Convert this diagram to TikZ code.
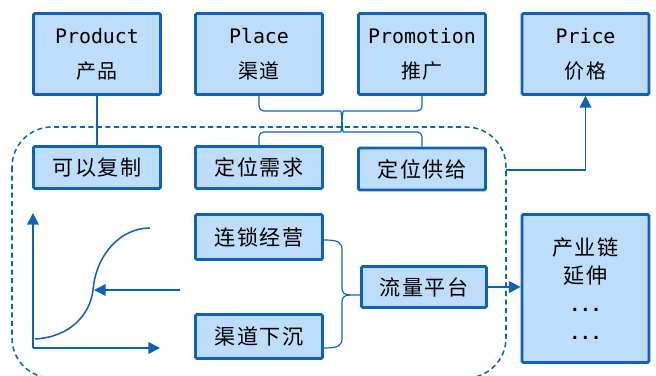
\documentclass[tikz,border=0pt]{standalone}
\usepackage{fontspec}
\setmainfont{DejaVu Sans Mono}
\newfontfamily\cjk[LetterSpace=8]{Noto Sans CJK SC}
\usetikzlibrary{arrows.meta}
\definecolor{BoxClr}{RGB}{189,221,250}
\definecolor{LineClr}{RGB}{14,98,181}

\tikzset{
  mixbox/.style={draw=LineClr,fill=BoxClr,line width=2.4pt,rounded corners=1.2pt,
    minimum width=3.81cm,minimum height=2.43cm,align=center,
    font=\fontsize{17}{30}\selectfont},
  cnbox/.style={draw=LineClr,fill=BoxClr,line width=2.4pt,rounded corners=1.2pt,
    minimum width=3.81cm,minimum height=1.26cm,align=center,
    font=\cjk\fontsize{18}{24}\selectfont},
  link/.style={draw=LineClr,line width=1pt},
  axis/.style={draw=LineClr,line width=1.3pt},
  tri/.style={-{Triangle[length=10pt,width=10pt]}}
}

\begin{document}
\begin{tikzpicture}[x=0.03cm,y=-0.03cm]
\useasboundingbox (0,0) rectangle (656,376);

% the four P
\node[mixbox] (prod)  at (97,54)    {Product\\{\cjk 产品}};
\node[mixbox] (place) at (259,54)   {Place\\{\cjk 渠道}};
\node[mixbox] (promo) at (422,54)   {Promotion\\{\cjk 推广}};
\node[mixbox] (price) at (585.5,54) {Price\\{\cjk 价格}};

% inside the dashed frame
\draw[LineClr,line width=1.3pt,dash pattern=on 4.3pt off 3pt,rounded corners=1.2cm]
  (12,127) rectangle (506,378);
\node[cnbox] (copy)   at (97,167.5)  {可以复制};
\node[cnbox] (demand) at (259,167.5) {定位需求};
\node[cnbox] (supply) at (422,169)   {定位供给};
\node[cnbox,minimum height=1.35cm] (chain) at (259,237)   {连锁经营};
\node[cnbox,minimum height=1.32cm] (sink)  at (259,336.5) {渠道下沉};
\node[cnbox,minimum width=3.75cm,minimum height=1.23cm] (flow) at (424,287) {流量平台};
\node[cnbox,minimum height=4.44cm] (ext) at (585.5,288.5)
  {产业链\\延伸\\{\rmfamily\bfseries\fontsize{15}{24}\selectfont ...}\\{\rmfamily\bfseries\fontsize{15}{24}\selectfont ...}};

\draw[link] (prod) -- (copy);

% braces between the rows
\coordinate (tipA) at (342,126);
\coordinate (tipB) at (342,122);
\draw[link,rounded corners=4pt] (place.south) |- (336,111) .. controls (341,111) and (342,116) .. (tipA);
\draw[link,rounded corners=4pt] (promo.south) |- (348,111) .. controls (343,111) and (342,116) .. (tipA);
\draw[link,rounded corners=4pt] (demand.north) |- (336,132) .. controls (341,132) and (342,127) .. (tipB);
\draw[link,rounded corners=4pt] (supply.north) |- (348,132) .. controls (343,132) and (342,127) .. (tipB);

\coordinate (exit) at (506,170);
\draw[axis,tri] (exit) -| (price.south);

% brace to the platform
\coordinate (brtip) at (350,295);
\draw[link] (324,240) .. controls (338,240) and (342,242) .. (342,250) -- (342,288)
  .. controls (342,293) and (345,295) .. (brtip) -- (flow.west |- brtip);
\draw[link] (324,348) .. controls (338,348) and (342,346) .. (342,338) -- (342,302)
  .. controls (342,297) and (345,295) .. (brtip);
\draw[axis,tri] (flow.east) -- (ext.west |- flow.east);

% growth curve
\coordinate (O) at (33,348);
\coordinate (yend) at (33,213);
\coordinate (xend) at (160,348);
\draw[axis,tri] (O) -- (yend);
\draw[axis,tri] (O) -- (xend);
\draw[axis] (35,339) .. controls (70,337) and (90,315) .. (93,290)
  .. controls (96,255) and (120,228) .. (150,228);
\coordinate (push) at (180,290);
\coordinate (hit) at (94,290);
\draw[axis,tri] (push) -- (hit);

\end{tikzpicture}
\end{document}
